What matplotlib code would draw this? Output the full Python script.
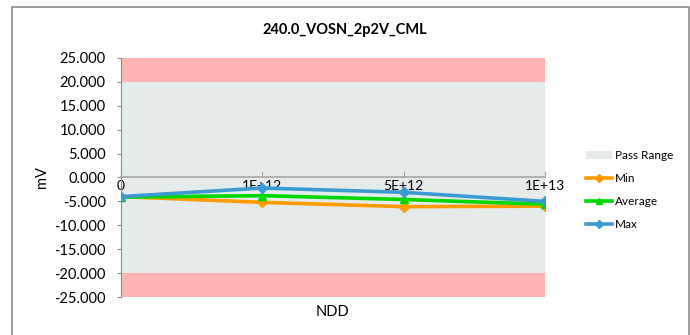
import matplotlib

matplotlib.use("Agg")
import matplotlib.pyplot as plt
from matplotlib.lines import Line2D
from matplotlib.patches import Patch, Rectangle
import numpy as np

NDD = ["0", "1E+12", "5E+12", "1E+13"]
MIN_MV = [-4.0, -5.2, -6.1, -6.0]
AVG_MV = [-4.1, -3.8, -4.6, -5.6]
MAX_MV = [-4.0, -2.2, -3.1, -5.0]
PASS_LOW = -20.0
PASS_HIGH = 20.0
Y_LIMITS = [-25.0, 25.0]

ORANGE = "#ff9a00"
GREEN = "#00d600"
BLUE = "#3c9ad2"
PINK = "#ffb3b3"
PASS_GREY = "#e5ebeb"


def main() -> None:
    plt.rcParams.update(
        {
            "font.family": ["Lato", "DejaVu Sans"],
            "font.size": 10,
        }
    )
    fig = plt.figure(figsize=(6.9, 3.35), dpi=100)
    ax = fig.add_axes([0.1754, 0.1134, 0.6145, 0.7135])

    x = np.arange(len(NDD))
    n = len(NDD)
    # fail / pass bands
    ax.fill_between(x, [Y_LIMITS[0]] * n, [PASS_LOW] * n, color=PINK, lw=0, zorder=1)
    ax.fill_between(x, [PASS_LOW] * n, [PASS_HIGH] * n, color=PASS_GREY, lw=0, zorder=1)
    ax.fill_between(x, [PASS_HIGH] * n, [Y_LIMITS[1]] * n, color=PINK, lw=0, zorder=1)

    ax.plot(x, MIN_MV, color=ORANGE, lw=2.6, marker="D", ms=5, zorder=4)
    ax.plot(x, AVG_MV, color=GREEN, lw=2.6, marker="^", ms=6, zorder=5)
    ax.plot(x, MAX_MV, color=BLUE, lw=2.6, marker="D", ms=5, zorder=6)

    ax.set_xlim(0, n - 1)
    ax.set_ylim(*Y_LIMITS)
    ax.set_yticks(np.arange(-25, 26, 5))
    ax.yaxis.set_major_formatter(lambda v, p: f"{v:.3f}")
    ax.set_xticks(x)
    ax.set_xticklabels(NDD, fontsize=9)

    for side in ["top", "right"]:
        ax.spines[side].set_visible(False)
    ax.spines["left"].set_color("#8c8c8c")
    ax.spines["bottom"].set_position(("data", 0))
    ax.spines["bottom"].set_color("#a6a6a6")
    ax.spines["bottom"].set_linewidth(1.2)
    ax.spines["bottom"].set_zorder(3)
    ax.tick_params(axis="y", color="#8c8c8c", length=3, labelsize=10.5, pad=8)
    ax.tick_params(axis="x", color="#a6a6a6", length=4, direction="in", pad=2)
    for lbl in ax.get_xticklabels():
        lbl.set_zorder(7)

    ax.set_ylabel("mV", fontsize=10.5, labelpad=4)
    fig.text(0.4826, 1 - 312 / 335, "NDD", ha="center", va="center", fontsize=10.5)
    fig.text(0.5, 1 - 30 / 335, "240.0_VOSN_2p2V_CML", ha="center", va="center",
             fontsize=10.5, fontweight="bold")

    handles = [
        Patch(facecolor=PASS_GREY, edgecolor="none"),
        Line2D([], [], color=ORANGE, lw=2.6, marker="D", ms=4),
        Line2D([], [], color=GREEN, lw=2.6, marker="^", ms=5),
        Line2D([], [], color=BLUE, lw=2.6, marker="D", ms=4),
    ]
    fig.legend(handles, ["Pass Range", "Min", "Average", "Max"],
               loc="center left", bbox_to_anchor=(0.842, 1 - 190 / 335),
               frameon=False, fontsize=8.5, handlelength=2.2, handletextpad=0.3,
               labelspacing=1.0, borderaxespad=0)

    fig.patches.append(Rectangle((12 / 690, -0.05), 677 / 690, 1.05 - 7 / 335,
                                 transform=fig.transFigure, fill=False,
                                 edgecolor="#8c8c8c", lw=1.2))
    fig.savefig("out.png", dpi=100)
    plt.close(fig)


if __name__ == "__main__":
    main()
